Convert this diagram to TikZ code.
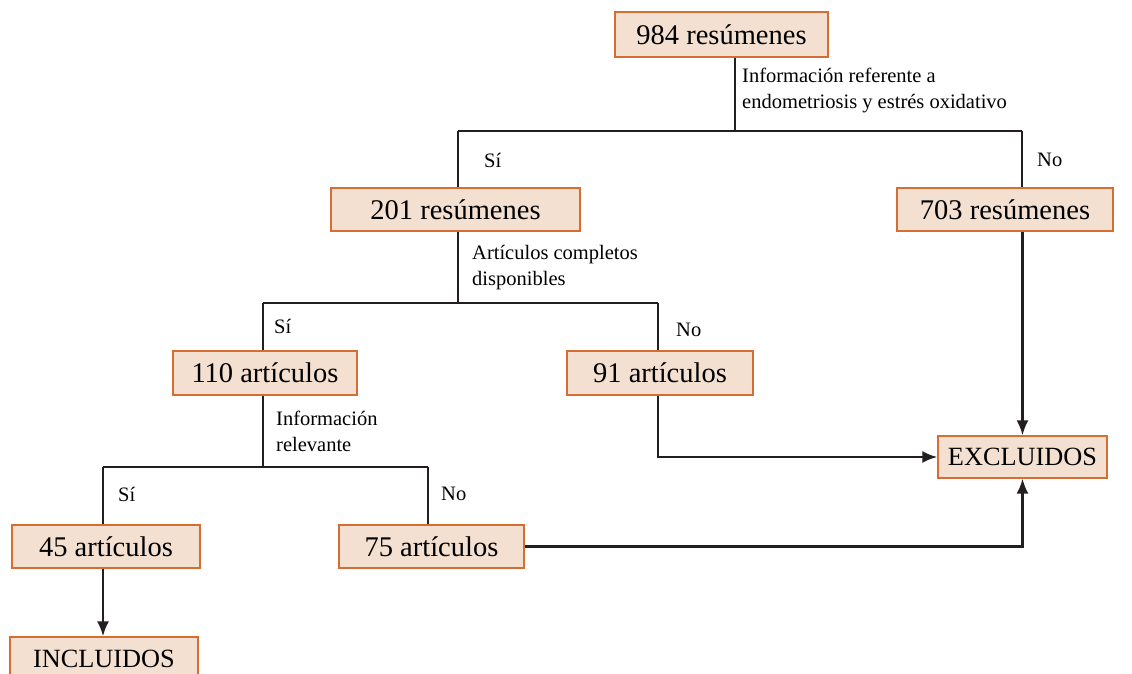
\documentclass[tikz,border=0pt]{standalone}
\usepackage{fontspec}
\setmainfont{Liberation Serif}
\usetikzlibrary{arrows.meta,calc}
\definecolor{boxfill}{RGB}{244,224,209}
\definecolor{boxdraw}{RGB}{214,110,52}
\definecolor{linec}{RGB}{35,31,32}
\tikzset{
  box/.style={draw=boxdraw,fill=boxfill,line width=1.2pt,inner sep=0pt,font=\fontsize{28.5}{32}\selectfont,text=black},
  capsbox/.style={box,font=\fontsize{26.3}{30}\selectfont},
  lbl/.style={font=\fontsize{20.5}{26}\selectfont,align=left,anchor=west,inner sep=0pt,text=black},
  conn/.style={draw=linec,line width=2.5pt},
  arr/.style={conn,-{Latex[length=15pt,width=12pt]}},
}
\begin{document}
\begin{tikzpicture}[x=1pt,y=-1pt]
\useasboundingbox (0,0) rectangle (1132,674);
\clip (0,0) rectangle (1132,674);
% boxes
\node[box,minimum width=213,minimum height=45] (n984) at (721.5,34.5) {984 resúmenes};
\node[box,minimum width=249,minimum height=43] (n201) at (455.5,209.5) {201 resúmenes};
\node[box,minimum width=216,minimum height=43] (n703) at (1005,209.5) {703 resúmenes};
\node[box,minimum width=184,minimum height=44] (n110) at (265,373) {110 artículos};
\node[box,minimum width=186,minimum height=44] (n91) at (660,373) {91 artículos};
\node[capsbox,minimum width=169,minimum height=42] (nexc) at (1022.5,457) {EXCLUIDOS};
\node[box,minimum width=188,minimum height=43] (n45) at (106,546.5) {45 artículos};
\node[box,minimum width=185,minimum height=43] (n75) at (431.5,546.5) {75 artículos};
\node[capsbox,minimum width=188,minimum height=44,text depth=0pt] (ninc) at (104,659) {INCLUIDOS};
% branch coordinates
\coordinate (b1) at (735,131);
\coordinate (b1l) at (458,131);
\coordinate (b1r) at (1022,131);
\coordinate (b2) at (458,303);
\coordinate (b2l) at (263,303);
\coordinate (b2r) at (658,303);
\coordinate (b3) at (263,467);
\coordinate (b3l) at (103,467);
\coordinate (b3r) at (428,467);
% connectors level 1
\draw[conn] (n984.south -| b1) -- (b1);
\draw[conn] (b1l) -- (b1r);
\draw[conn] (b1l) -- (b1l |- n201.north);
\draw[conn] (b1r) -- (b1r |- n703.north);
% level 2
\draw[conn] (n201.south -| b2) -- (b2);
\draw[conn] (b2l) -- (b2r);
\draw[conn] (b2l) -- (b2l |- n110.north);
\draw[conn] (b2r) -- (b2r |- n91.north);
% level 3
\draw[conn] (n110.south -| b3) -- (b3);
\draw[conn] (b3l) -- (b3r);
\draw[conn] (b3l) -- (b3l |- n45.north);
\draw[conn] (b3r) -- (b3r |- n75.north);
% to excluded / included
\draw[arr] (n703.south -| nexc.north) -- (nexc.north);
\draw[arr] (n91.south -| b2r) |- (nexc.west);
\draw[arr] (n75.east) -| (nexc.south);
\draw[arr] (n45.south -| b3l) -- (b3l |- ninc.north);
% labels
\node[lbl] (t1) at (742,90) {Información referente a\\endometriosis y estrés oxidativo};
\node[lbl] (t2) at (472,268) {Artículos completos\\disponibles};
\node[lbl] (t3) at (276,431) {Información\\relevante};
\node[lbl] (s1) at (484,160) {Sí};
\node[lbl] (no1) at (1037,160) {No};
\node[lbl] (s2) at (274,326) {Sí};
\node[lbl] (no2) at (676,330) {No};
\node[lbl] (s3) at (118,494) {Sí};
\node[lbl] (no3) at (441,494) {No};
\end{tikzpicture}
\end{document}
